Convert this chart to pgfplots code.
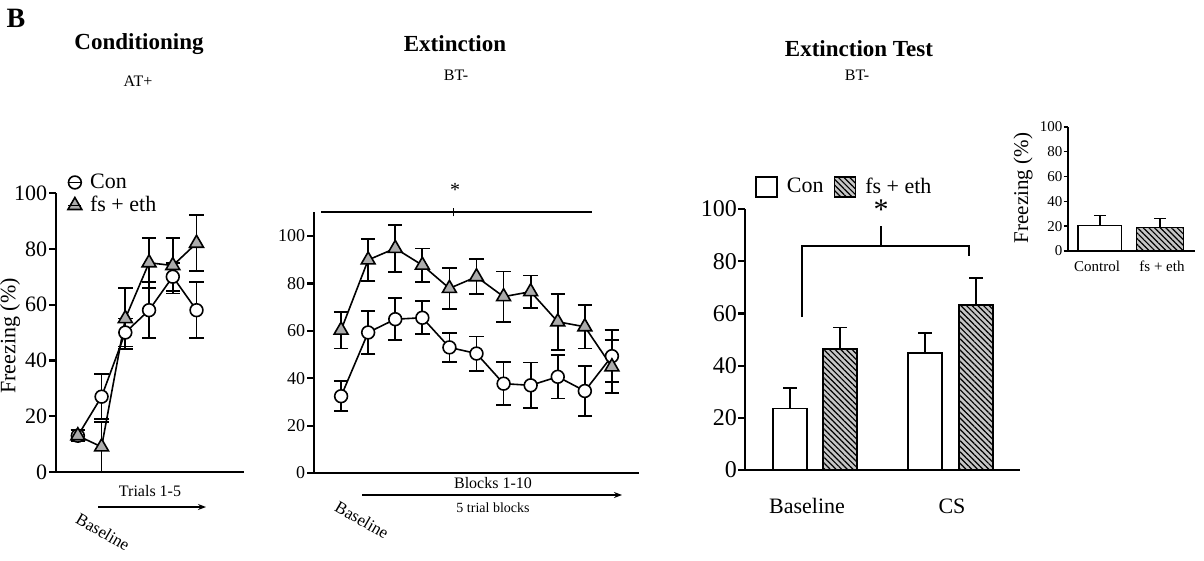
\documentclass[border=0pt]{standalone}
\usepackage{fontspec}
\setmainfont{Liberation Serif}
\usepackage{pgfplots}
\pgfplotsset{compat=1.18}
\usetikzlibrary{patterns.meta, arrows.meta}
\newcommand{\fsz}[1]{\fontsize{#1}{#1}\selectfont}
\pgfplotsset{
  prism/.style={scale only axis, axis x line=bottom, axis y line=left,
    axis line style={-, line width=1.2pt}, tick align=outside,
    major tick length=3.5pt, tick style={line width=1.1pt, black},
    xtick=\empty, clip=false, ymin=0, yticklabel style={inner sep=0.8pt},
    /pgf/number format/assume math mode=true},
  con/.style={black, line width=0.8pt, mark=*, mark size=3.2pt,
    mark options={fill=white, draw=black, line width=0.8pt},
    error bars/.cd, y dir=both, y explicit,
    error bar style={line width=0.9pt, black},
    error mark options={rotate=90, mark size=3.6pt, line width=0.9pt, black}},
  fse/.style={black, line width=0.8pt, mark=triangle*, mark size=4pt,
    mark options={fill=gray!65, draw=black, line width=0.8pt},
    error bars/.cd, y dir=both, y explicit,
    error bar style={line width=0.9pt, black},
    error mark options={rotate=90, mark size=3.6pt, line width=0.9pt, black}},
  hatch/.style={fill=gray!45, draw=black, line width=0.9pt,
    postaction={pattern={Lines[angle=-45,distance=2pt,line width=0.6pt]}}},
  openbar/.style={fill=white, draw=black, line width=0.9pt},
}
\begin{document}
\begin{tikzpicture}
\useasboundingbox (0,0) rectangle (602pt,-280.5pt);

% ---------- titles ----------
\node[font=\bfseries\fsz{14pt}] at (8pt,-9pt) {B};
\node[font=\bfseries\fsz{11.5pt}] at (69.5pt,-22pt) {Conditioning};
\node[font=\fsz{8pt}] at (69pt,-40.5pt) {AT+};
\node[font=\bfseries\fsz{11.5pt}] at (227.5pt,-22pt) {Extinction};
\node[font=\fsz{8pt}] at (228pt,-37.5pt) {BT-};
\node[font=\bfseries\fsz{11.5pt}] at (429.5pt,-24.5pt) {Extinction Test};
\node[font=\fsz{8pt}] at (428.5pt,-37.5pt) {BT-};

% ---------- Conditioning ----------
\begin{axis}[prism, at={(28pt,-236pt)}, anchor=south west,
  width=94pt, height=139.5pt, xmin=-0.92, xmax=7.0, ymax=100,
  ytick={0,20,...,100}, yticklabel style={font=\fsz{11pt}},
  legend style={at={(0.06,1.085)}, anchor=north west, draw=none, fill=none,
    font=\fsz{11pt}, row sep=-1.5pt, inner sep=0pt,
    /tikz/every odd column/.append style={column sep=2pt}},
  legend cell align=left,
  legend image code/.code={\draw[#1] plot coordinates {(0pt,0pt)};
    \draw[black, line width=0.8pt] (-3.2pt,0pt) -- (3.2pt,0pt);}]
\addplot[con] coordinates {(0,13) +- (0,2) (1,27) +- (0,8) (2,50) +- (0,5)
  (3,58) +- (0,10) (4,70) +- (0,5) (5,58) +- (0,10)};
\addlegendentry{Con}
\addplot[fse] coordinates {(0,13) +- (0,2) (1,9) +- (0,9) (2,55) +- (0,11)
  (3,75) +- (0,9) (4,74) +- (0,10) (5,82) +- (0,10)};
\addlegendentry{fs + eth}
\end{axis}
\node[rotate=90, font=\fsz{11pt}] at (5pt,-168pt) {Freezing (\%)};
\node[font=\fsz{8pt}] at (75pt,-245.5pt) {Trials 1-5};
\draw[-{Stealth[length=4pt,width=3pt]}, line width=0.7pt] (49pt,-253.5pt) -- (103pt,-253.5pt);
\node[rotate=-30, font=\fsz{8.5pt}] at (51.5pt,-266pt) {Baseline};

% ---------- Extinction ----------
\begin{axis}[prism, at={(157pt,-236.5pt)}, anchor=south west,
  width=162.5pt, height=130.35pt, xmin=-1, xmax=11, ymax=110,
  ytick={0,20,...,100}, yticklabel style={font=\fsz{9pt}}]
\addplot[con] coordinates {(0,32.4) +- (0,6.3) (1,59.3) +- (0,9) (2,64.9) +- (0,8.8)
  (3,65.5) +- (0,7) (4,53) +- (0,6) (5,50.4) +- (0,7.2) (6,37.7) +- (0,9)
  (7,37) +- (0,9.6) (8,40.6) +- (0,9.2) (9,34.6) +- (0,10.5) (10,49.3) +- (0,11)};
\addplot[fse] coordinates {(0,60.3) +- (0,7.8) (1,89.9) +- (0,9) (2,94.8) +- (0,10)
  (3,87.7) +- (0,7) (4,77.9) +- (0,8.6) (5,82.8) +- (0,7.4) (6,74.4) +- (0,10.6)
  (7,76.5) +- (0,6.8) (8,63.8) +- (0,11.8) (9,61.7) +- (0,9.2) (10,44.8) +- (0,11.2)};
\draw[line width=0.9pt] (axis cs:-0.74,110) -- (axis cs:9.26,110);
\draw[line width=0.9pt] (axis cs:4.15,108.3) -- (axis cs:4.15,111.8);
\end{axis}
\node[font=\fsz{10pt}] at (227.5pt,-95pt) {*};
\node[font=\fsz{8pt}] at (246.5pt,-241.5pt) {Blocks 1-10};
\draw[-{Stealth[length=4pt,width=3pt]}, line width=0.7pt] (181pt,-247.5pt) -- (311pt,-247.5pt);
\node[font=\fsz{7pt}] at (246.5pt,-254pt) {5 trial blocks};
\node[rotate=-30, font=\fsz{8.5pt}] at (181pt,-260pt) {Baseline};

% ---------- Extinction Test ----------
\begin{axis}[prism, at={(372.5pt,-235pt)}, anchor=south west,
  width=137.5pt, height=130.5pt, xmin=-0.9, xmax=4.6, ymax=100,
  ytick={0,20,...,100}, yticklabel style={font=\fsz{12pt}, inner sep=0.4pt},
  legend columns=2,
  legend style={at={(0.035,1.085)}, anchor=west, draw=none, fill=none,
    font=\fsz{11pt}, inner sep=0pt,
    /tikz/every odd column/.append style={column sep=2.5pt},
    /tikz/every even column/.append style={column sep=3pt}},
  legend image code/.code={\draw[#1] (0pt,-5pt) rectangle (10.5pt,5pt);}]
\addplot[ybar, bar width=0.68, bar shift=0pt, openbar,
  error bars/.cd, y dir=plus, y explicit,
  error bar style={line width=0.9pt, black},
  error mark options={rotate=90, mark size=3.3pt, line width=0.9pt, black}]
  coordinates {(0,23.6) +- (0,7.7) (2.7,44.8) +- (0,7.6)};
\addlegendentry{Con}
\addplot[ybar, bar width=0.68, bar shift=0pt, hatch,
  error bars/.cd, y dir=plus, y explicit,
  error bar style={line width=0.9pt, black},
  error mark options={rotate=90, mark size=3.3pt, line width=0.9pt, black}]
  coordinates {(1,46.3) +- (0,8.3) (3.72,63.3) +- (0,10.2)};
\addlegendentry{fs + eth}
\draw[line width=1pt] (axis cs:0.24,58.6) -- (axis cs:0.24,86) -- (axis cs:3.58,86) -- (axis cs:3.58,82);
\draw[line width=1pt] (axis cs:1.82,86) -- (axis cs:1.82,93.4);
\end{axis}
\node[font=\fsz{15pt}] at (440.5pt,-105pt) {*};
\node[font=\fsz{11pt}] at (403.5pt,-253pt) {Baseline};
\node[font=\fsz{11pt}] at (476pt,-253pt) {CS};

% ---------- inset ----------
\begin{axis}[prism, at={(534pt,-125.5pt)}, anchor=south west,
  width=63.5pt, height=62pt, xmin=-0.53, xmax=1.58, ymax=100,
  major tick length=2.2pt, axis line style={line width=0.8pt},
  tick style={line width=0.7pt},
  ytick={0,20,...,100}, yticklabel style={font=\fsz{7.5pt}, inner sep=0.4pt}]
\addplot[ybar, bar width=0.72, bar shift=0pt, openbar, line width=0.8pt,
  error bars/.cd, y dir=plus, y explicit,
  error bar style={line width=0.7pt, black},
  error mark options={rotate=90, mark size=3pt, line width=0.7pt, black}]
  coordinates {(0,20.7) +- (0,8.1)};
\addplot[ybar, bar width=0.78, bar shift=0pt, hatch, line width=0.8pt,
  error bars/.cd, y dir=plus, y explicit,
  error bar style={line width=0.7pt, black},
  error mark options={rotate=90, mark size=3pt, line width=0.7pt, black}]
  coordinates {(1,18.8) +- (0,7.2)};
\end{axis}
\node[rotate=90, font=\fsz{10.5pt}] at (511.5pt,-94pt) {Freezing (\%)};
\node[font=\fsz{7.5pt}] at (548.5pt,-133pt) {Control};
\node[font=\fsz{7.5pt}] at (581pt,-133pt) {fs + eth};
\end{tikzpicture}
\end{document}
